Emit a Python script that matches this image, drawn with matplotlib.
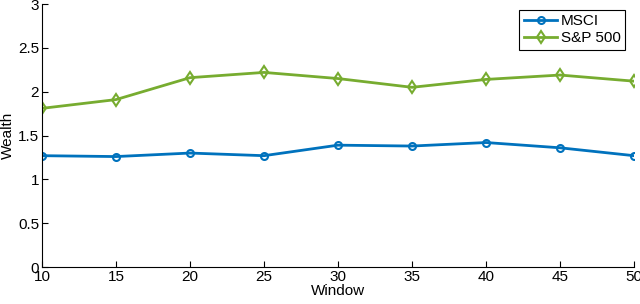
import matplotlib
matplotlib.use('Agg')
import matplotlib.pyplot as plt

plt.rcParams['font.family'] = ['Liberation Sans', 'DejaVu Sans']

window = [10, 15, 20, 25, 30, 35, 40, 45, 50]
msci = [1.27, 1.26, 1.30, 1.27, 1.39, 1.38, 1.42, 1.36, 1.27]
sp500 = [1.81, 1.91, 2.16, 2.22, 2.15, 2.05, 2.14, 2.19, 2.12]

fig = plt.figure(figsize=(6.4, 3.04), dpi=100)
ax = fig.add_axes([0.0656, 0.1217, 0.925, 0.865])

ax.plot(window, msci, color='#0072BD', lw=2, marker='o', ms=5,
        mfc='none', mew=1.5, label='MSCI')
ax.plot(window, sp500, color='#77AC30', lw=2, marker='d', ms=6,
        mfc='none', mew=1.5, label='S&P 500')

ax.set_xlim(10, 50)
ax.set_ylim(0, 3)
ax.set_xticks(window)
ax.set_yticks([0, 0.5, 1, 1.5, 2, 2.5, 3])
ax.set_yticklabels(['0', '0.5', '1', '1.5', '2', '2.5', '3'])
ax.tick_params(direction='in', labelsize=11, length=4, pad=2)
ax.spines['top'].set_visible(False)
ax.spines['right'].set_visible(False)
ax.set_xlabel('Window', fontsize=11, labelpad=0)
ax.set_ylabel('Wealth', fontsize=11, labelpad=2)

leg = ax.legend(loc='upper right', bbox_to_anchor=(0.99, 0.99), fontsize=11,
                fancybox=False, framealpha=1, edgecolor='black',
                handlelength=2.2, borderpad=0.3, labelspacing=0.2,
                handletextpad=0.2, borderaxespad=0.2)
leg.get_frame().set_linewidth(0.8)

fig.savefig('out.png', dpi=100)
